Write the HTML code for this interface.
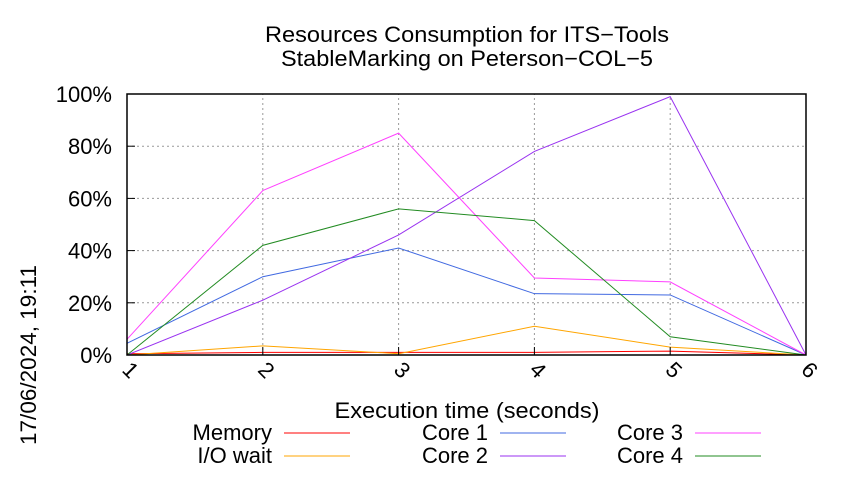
<!DOCTYPE html>
<html><head><meta charset="utf-8"><style>
body{margin:0;background:#fff}
svg{font-family:"Liberation Sans",sans-serif}
</style></head><body>
<svg width="850" height="475" xmlns="http://www.w3.org/2000/svg">
<text x="467" y="42" text-anchor="middle" font-size="22" textLength="404" lengthAdjust="spacingAndGlyphs">Resources Consumption for ITS−Tools</text>
<text x="467" y="66" text-anchor="middle" font-size="22" textLength="372" lengthAdjust="spacingAndGlyphs">StableMarking on Peterson−COL−5</text>
<g id="grid"></g>
<g id="series"></g>
<rect x="127" y="94" width="679" height="261" fill="none" stroke="#000" stroke-width="1.5"/>
<g id="axes"></g>
<text x="467" y="418" text-anchor="middle" font-size="22" textLength="265" lengthAdjust="spacingAndGlyphs">Execution time (seconds)</text>
<text transform="translate(36,355) rotate(-90)" text-anchor="middle" font-size="22" textLength="180" lengthAdjust="spacingAndGlyphs">17/06/2024, 19:11</text>
<g id="legend"></g>
</svg>
<script>
const xValues=[1,2,3,4,5,6];
const yTicks=[0,20,40,60,80,100];
const seriesNames=["Memory","I/O wait","Core 1","Core 2","Core 3","Core 4"];
const seriesColors=["#ff0000","#ffa500","#4169e1","#9932f0","#ff40ff","#228b22"];
const memory=[0.5,1,1,1,1.5,0];
const ioWait=[0,3.5,0.5,11,3,0];
const core1=[4.5,30,41,23.5,23,0];
const core2=[0,21,46,78,99,0];
const core3=[6,63,85,29.5,28,0];
const core4=[0,42,56,51.5,7,0];
const allSeries=[memory,ioWait,core1,core2,core3,core4];
const NS="http://www.w3.org/2000/svg";
const X0=127,X1=806,Y0=355,Y1=94;
const sx=v=>X0+(v-1)/(6-1)*(X1-X0);
const sy=v=>Y0-v/100*(Y0-Y1);
function mk(tag,attrs,parent){const e=document.createElementNS(NS,tag);for(const k in attrs)e.setAttribute(k,attrs[k]);parent.appendChild(e);return e;}
const grid=document.getElementById('grid'),axes=document.getElementById('axes'),ser=document.getElementById('series'),leg=document.getElementById('legend');
yTicks.forEach(t=>{
 const y=sy(t);
 const g=mk('line',{x1:X0,x2:X1,y1:y,y2:y,stroke:'#999','stroke-dasharray':'2,3','stroke-width':1},grid);
 
 
 const tk=mk('line',{x1:X0,x2:X0+8,y1:y,y2:y,stroke:'#000'},axes);
 
 
 const tx=mk('text',{x:X0-15,y:y+8,'text-anchor':'end','font-size':22},axes);
 tx.textContent=t+'%';
 
 
});
xValues.forEach(v=>{
 const x=sx(v);
 const g=mk('line',{x1:x,x2:x,y1:Y0,y2:Y1,stroke:'#999','stroke-dasharray':'2,3','stroke-width':1},grid);
 
 
 const tk=mk('line',{x1:x,x2:x,y1:Y0,y2:Y0-8,stroke:'#000'},axes);
 
 
 const tx=mk('text',{transform:`translate(${x-6},${Y0+16}) rotate(45)`,'font-size':22},axes);
 tx.textContent=v;
 
 
});
allSeries.forEach((d,i)=>{
 const p=mk('polyline',{points:d.map((v,j)=>sx(xValues[j])+','+sy(v)).join(' '),fill:'none',stroke:seriesColors[i],'stroke-width':1},ser);
 
 
});
const legPos=[[272,440],[272,463],[488,440],[488,463],[683,440],[683,463]];
seriesNames.forEach((n,i)=>{
 const [x,y]=legPos[i];
 const t=mk('text',{x:x,y:y,'text-anchor':'end','font-size':22},leg);
 t.textContent=n;
 
 
 const l=mk('line',{x1:x+12,x2:x+78,y1:y-7,y2:y-7,stroke:seriesColors[i],'stroke-width':1},leg);
 
 
});
</script>
</body></html>
